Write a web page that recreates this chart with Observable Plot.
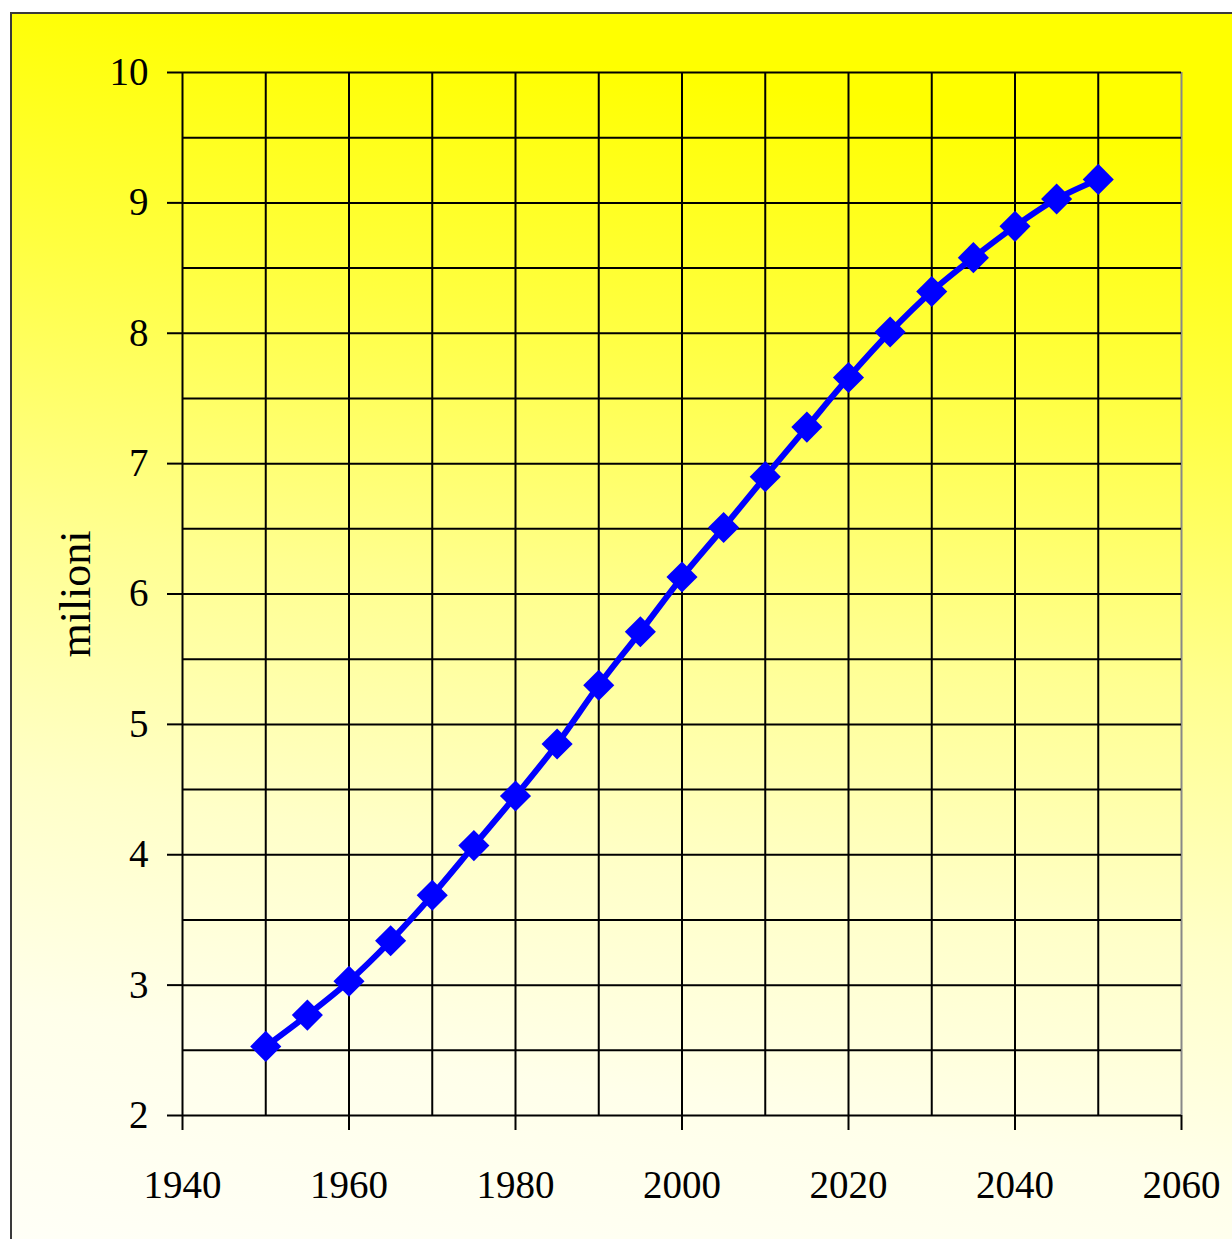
<!DOCTYPE html>
<html>
<head>
<meta charset="utf-8">
<script src="https://cdn.jsdelivr.net/npm/d3@7"></script>
<script src="https://cdn.jsdelivr.net/npm/@observablehq/plot@0.6"></script>
<style>
  html, body { margin: 0; padding: 0; width: 1232px; height: 1239px; overflow: hidden; background: #fff; }
  #frame {
    position: absolute; left: 10px; top: 12px; width: 1240px; height: 1250px;
    border: 2px solid #3a3a3a;
    background: linear-gradient(188deg, #ffff00 0%, #ffff00 10%, #ffff40 28%, #ffff90 48%, #ffffc8 66%, #ffffea 82%, #fffff8 100%);
  }
  #chart { position: absolute; left: 0; top: 0; }
</style>
</head>
<body>
<div id="frame"></div>
<div id="chart"></div>
<script>
const years = [1950, 1955, 1960, 1965, 1970, 1975, 1980, 1985, 1990, 1995, 2000, 2005, 2010, 2015, 2020, 2025, 2030, 2035, 2040, 2045, 2050];
const population = [2.53, 2.77, 3.03, 3.34, 3.69, 4.07, 4.45, 4.85, 5.30, 5.71, 6.13, 6.51, 6.90, 7.28, 7.66, 8.01, 8.32, 8.58, 8.82, 9.03, 9.18];
const xTicks = [1940, 1960, 1980, 2000, 2020, 2040, 2060];
const yTicks = [2, 3, 4, 5, 6, 7, 8, 9, 10];
const xGrid = d3.range(1940, 2061, 10);
const yGrid = d3.range(2, 10.01, 0.5);
const yLabel = "milioni";

const data = years.map((y, i) => ({year: y, value: population[i]}));

const chart = Plot.plot({
  width: 1232,
  height: 1239,
  marginLeft: 182,
  marginRight: 51,
  marginTop: 72,
  marginBottom: 124,
  style: {background: "transparent", fontFamily: "'Liberation Serif', 'Times New Roman', serif", fontSize: "39px", color: "#000"},
  x: {domain: [1940, 2060]},
  y: {domain: [2, 10]},
  marks: [
    Plot.ruleX(xGrid.filter(d => d < 2060), {stroke: "#000", strokeWidth: 2}),
    Plot.ruleX([2060], {stroke: "#888", strokeWidth: 2}),
    Plot.ruleY(yGrid, {stroke: "#000", strokeWidth: 2}),
    Plot.axisX({ticks: xTicks, tickSize: 15, tickPadding: 40, fontSize: 39, tickFormat: d => String(d), label: null, strokeWidth: 2}),
    Plot.axisY({ticks: yTicks, tickSize: 15, tickPadding: 19, fontSize: 39, tickFormat: d => String(d), label: null, strokeWidth: 2}),
    Plot.text([yLabel], {frameAnchor: "left", dx: -107, rotate: -90, textAnchor: "middle", fontSize: 44, fill: "#000"}),
    Plot.line(data, {x: "year", y: "value", stroke: "#0000ff", strokeWidth: 6, curve: "catmull-rom"}),
    Plot.dot(data, {x: "year", y: "value", symbol: "diamond2", r: 14, fill: "#0000ff", stroke: "none"})
  ]
});
document.getElementById("chart").appendChild(chart);
</script>
</body>
</html>
